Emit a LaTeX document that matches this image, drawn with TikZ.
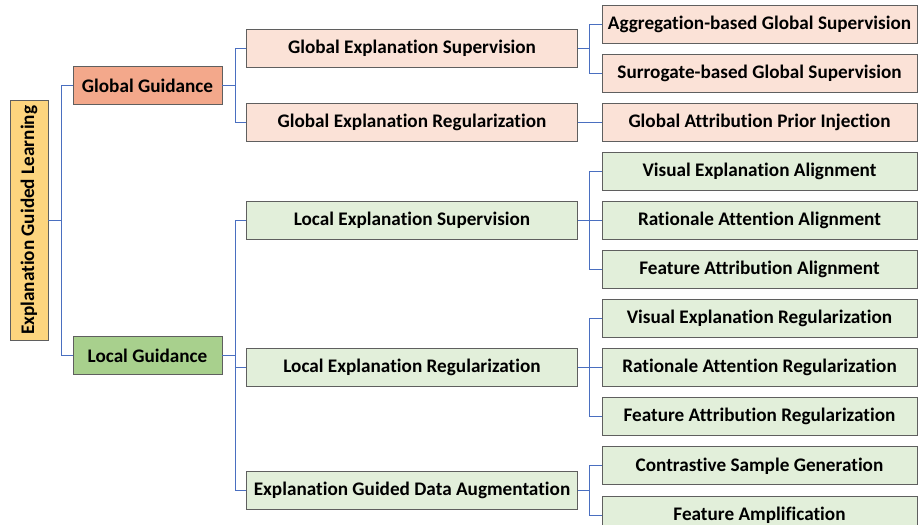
\documentclass[tikz,border=0pt]{standalone}
\usepackage{fontspec}
\setmainfont{Carlito}[Ligatures={NoCommon}]
\usetikzlibrary{positioning,calc}

\definecolor{rootfill}{HTML}{FDD57E}
\definecolor{globfill}{HTML}{F3A88B}
\definecolor{globlight}{HTML}{FBE2D7}
\definecolor{locfill}{HTML}{A8D08D}
\definecolor{loclight}{HTML}{E2EFDA}
\definecolor{boxline}{HTML}{5F5F5F}
\definecolor{linkblue}{HTML}{4A6FC0}

\begin{document}
\begin{tikzpicture}[x=1pt,y=-1pt,font=\fontsize{19.2}{22}\selectfont\bfseries,
    link/.style={draw=linkblue,line width=0.9pt}]
  \tikzstyle{box}=[draw=boxline,line width=0.9pt,minimum height=38pt,inner sep=0pt,text=black]
  \tikzstyle{leaf}=[box,minimum width=315pt]
  \tikzstyle{mid}=[box,minimum width=331pt]
  \tikzstyle{top}=[box,minimum width=149pt]

  \useasboundingbox (0,0) rectangle (922,525);

  % third level
  \node[leaf,fill=globlight] (agg) at (759.5,24) {Aggregation-based Global Supervision};
  \node[leaf,fill=globlight] (sur) [below=10.2pt of agg] {Surrogate-based Global Supervision};
  \node[leaf,fill=globlight] (gap) [below=10.2pt of sur] {Global Attribution Prior Injection};
  \node[leaf,fill=loclight]  (vea) [below=10.2pt of gap] {Visual Explanation Alignment};
  \node[leaf,fill=loclight]  (raa) [below=10.2pt of vea] {Rationale Attention Alignment};
  \node[leaf,fill=loclight]  (faa) [below=10.2pt of raa] {Feature Attribution Alignment};
  \node[leaf,fill=loclight]  (ver) [below=10.2pt of faa] {Visual Explanation Regularization};
  \node[leaf,fill=loclight]  (rar) [below=10.2pt of ver] {Rationale Attention Regularization};
  \node[leaf,fill=loclight]  (far) [below=10.2pt of rar] {Feature Attribution Regularization};
  \node[leaf,fill=loclight]  (csg) [below=10.2pt of far] {Contrastive Sample Generation};
  \node[leaf,fill=loclight]  (fam) [below=10.2pt of csg] {Feature Amplification};

  % second level
  \node[mid,fill=globlight] (ges)  at ($(agg)!0.5!(sur)+(-347.5,0)$) {Global Explanation Supervision};
  \node[mid,fill=globlight] (ger)  at ($(gap)+(-347.5,0)$) {Global Explanation Regularization};
  \node[mid,fill=loclight]  (les)  at ($(raa)+(-347.5,0)$) {Local Explanation Supervision};
  \node[mid,fill=loclight]  (ler)  at ($(rar)+(-347.5,0)$) {Local Explanation Regularization};
  \node[mid,fill=loclight]  (egda) at ($(csg)!0.5!(fam)+(-347.5,0)$) {Explanation Guided Data Augmentation};

  % first level
  \node[top,fill=globfill] (gg) at ($(ges)!0.5!(ger)+(-264.5,0)$) {Global Guidance};
  \node[top,fill=locfill]  (lg) at ($(les)!0.5!(egda)+(-264.5,0)$) {Local Guidance};

  \node[box,fill=rootfill,minimum width=240pt,minimum height=38pt,rotate=90] (egl)
    at ($(gg)!0.5!(lg)+(-118.5,0)$) {Explanation Guided Learning};

  % links
  \draw[link] (egl.south) -- ++(13,0) |- (gg.west);
  \draw[link] (egl.south) -- ++(13,0) |- (lg.west);
  \draw[link] (gg.east) -- ++(12.5,0) |- (ges.west);
  \draw[link] (gg.east) -- ++(12.5,0) |- (ger.west);
  \draw[link] (lg.east) -- ++(12.5,0) |- (les.west);
  \draw[link] (lg.east) -- ++(12.5,0) |- (ler.west);
  \draw[link] (lg.east) -- ++(12.5,0) |- (egda.west);
  \draw[link] (ges.east) -- ++(11.5,0) |- (agg.west);
  \draw[link] (ges.east) -- ++(11.5,0) |- (sur.west);
  \draw[link] (ger) -- (gap);
  \draw[link] (les) -- (raa);
  \draw[link] (les.east) -- ++(11.5,0) |- (vea.west);
  \draw[link] (les.east) -- ++(11.5,0) |- (faa.west);
  \draw[link] (ler) -- (rar);
  \draw[link] (ler.east) -- ++(11.5,0) |- (ver.west);
  \draw[link] (ler.east) -- ++(11.5,0) |- (far.west);
  \draw[link] (egda.east) -- ++(11.5,0) |- (csg.west);
  \draw[link] (egda.east) -- ++(11.5,0) |- (fam.west);
\end{tikzpicture}
\end{document}
